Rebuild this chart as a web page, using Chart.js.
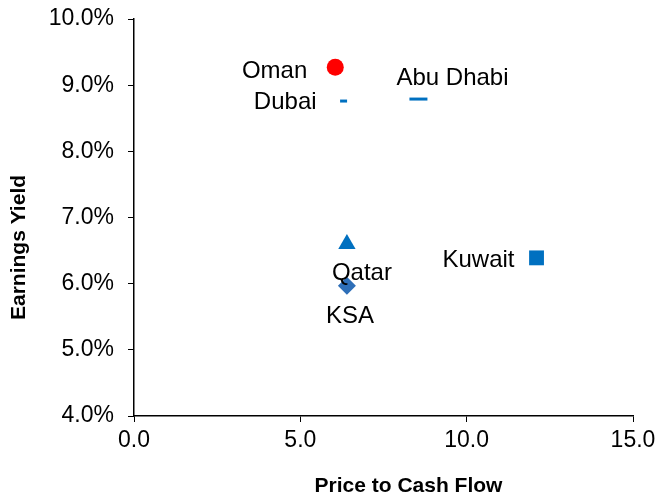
<!DOCTYPE html>
<html>
<head>
<meta charset="utf-8">
<script src="https://cdn.jsdelivr.net/npm/chart.js@4"></script>
<style>
  html, body { margin: 0; padding: 0; background: #fff; }
  #wrap { width: 657px; height: 497px; }
</style>
</head>
<body>
<div id="wrap"><canvas id="pcfChart"></canvas></div>
<script>
const countries = ['Oman', 'Dubai', 'Abu Dhabi', 'Qatar', 'KSA', 'Kuwait'];
const priceToCashFlow = [6.05, 6.3, 8.55, 6.4, 6.4, 12.1];
const earningsYield = [9.27, 8.76, 8.79, 6.6, 5.97, 6.39];
const xTicks = [0, 5, 10, 15];
const yTicks = [4, 5, 6, 7, 8, 9, 10];
const xTitle = 'Price to Cash Flow';
const yTitle = 'Earnings Yield';

// marker looks per country
const markerStyle = ['circle', 'line', 'line', 'triangle', 'rectRot', 'rect'];
const markerColor = ['#ff0000', '#0070c0', '#0070c0', '#0070c0', '#2e6fb8', '#0070c0'];
const markerRadius = [8.5, 3.5, 9, 10, 9, 10.5];
// label offsets from the marker [dx, dy, align]
const labelPos = [
  [-28, 4, 'right'],
  [-27, 1, 'right'],
  [-22, -21, 'left'],
  [15, 29, 'center'],
  [3, 31, 'center'],
  [-22, 3, 'right']
];

const FONT = "'Liberation Sans', Arial, sans-serif";

const pointLabels = {
  id: 'pointLabels',
  afterDatasetsDraw(chart) {
    const ctx = chart.ctx;
    const meta = chart.getDatasetMeta(0);
    const area = chart.chartArea;
    ctx.save();
    ctx.font = '24px ' + FONT;
    ctx.fillStyle = '#000';
    ctx.textBaseline = 'middle';
    meta.data.forEach((pt, i) => {
      const p = labelPos[i];
      ctx.textAlign = p[2];
      ctx.fillText(countries[i], pt.x + p[0], pt.y + p[1]);
    });
    // axis titles (Excel puts them a bit off the plot centre)
    ctx.font = 'bold 21px ' + FONT;
    ctx.textAlign = 'center';
    ctx.fillText(xTitle, (area.left + area.right) / 2 + 25, 486);
    ctx.translate(19, (area.top + area.bottom) / 2 + 30);
    ctx.rotate(-Math.PI / 2);
    ctx.fillText(yTitle, 0, 0);
    ctx.restore();
  }
};

new Chart(document.getElementById('pcfChart'), {
  type: 'scatter',
  data: {
    datasets: [{
      data: priceToCashFlow.map((x, i) => ({ x: x, y: earningsYield[i] })),
      pointStyle: markerStyle,
      backgroundColor: markerColor,
      borderColor: markerColor,
      borderWidth: markerStyle.map(s => s === 'line' ? 3 : 0),
      pointRadius: markerRadius,
      pointHoverRadius: markerRadius
    }]
  },
  options: {
    responsive: true,
    maintainAspectRatio: false,
    animation: false,
    layout: { padding: { top: 19, right: 24, left: 0, bottom: 0 } },
    plugins: { legend: { display: false }, tooltip: { enabled: false } },
    scales: {
      x: {
        type: 'linear',
        min: 0, max: 15,
        afterBuildTicks(s) { s.ticks = xTicks.map(v => ({ value: v })); },
        afterFit(s) { s.height = 81; s.paddingLeft = 0; s.paddingRight = 0; },
        ticks: {
          color: '#000',
          font: { family: FONT, size: 23 },
          padding: 5,
          callback: v => v.toFixed(1)
        },
        grid: { drawOnChartArea: false, drawTicks: true, tickLength: 6, color: '#000' },
        border: { color: '#000', width: 1.5 }
      },
      y: {
        type: 'linear',
        min: 4, max: 10,
        afterBuildTicks(s) { s.ticks = yTicks.map(v => ({ value: v })); },
        afterFit(s) { s.width = 134; s.paddingTop = 0; s.paddingBottom = 0; },
        ticks: {
          color: '#000',
          font: { family: FONT, size: 23 },
          padding: 14,
          callback: v => v.toFixed(1) + '%'
        },
        grid: { drawOnChartArea: false, drawTicks: true, tickLength: 6, color: '#000' },
        border: { color: '#000', width: 1.5 }
      }
    }
  },
  plugins: [pointLabels]
});
</script>
</body>
</html>
